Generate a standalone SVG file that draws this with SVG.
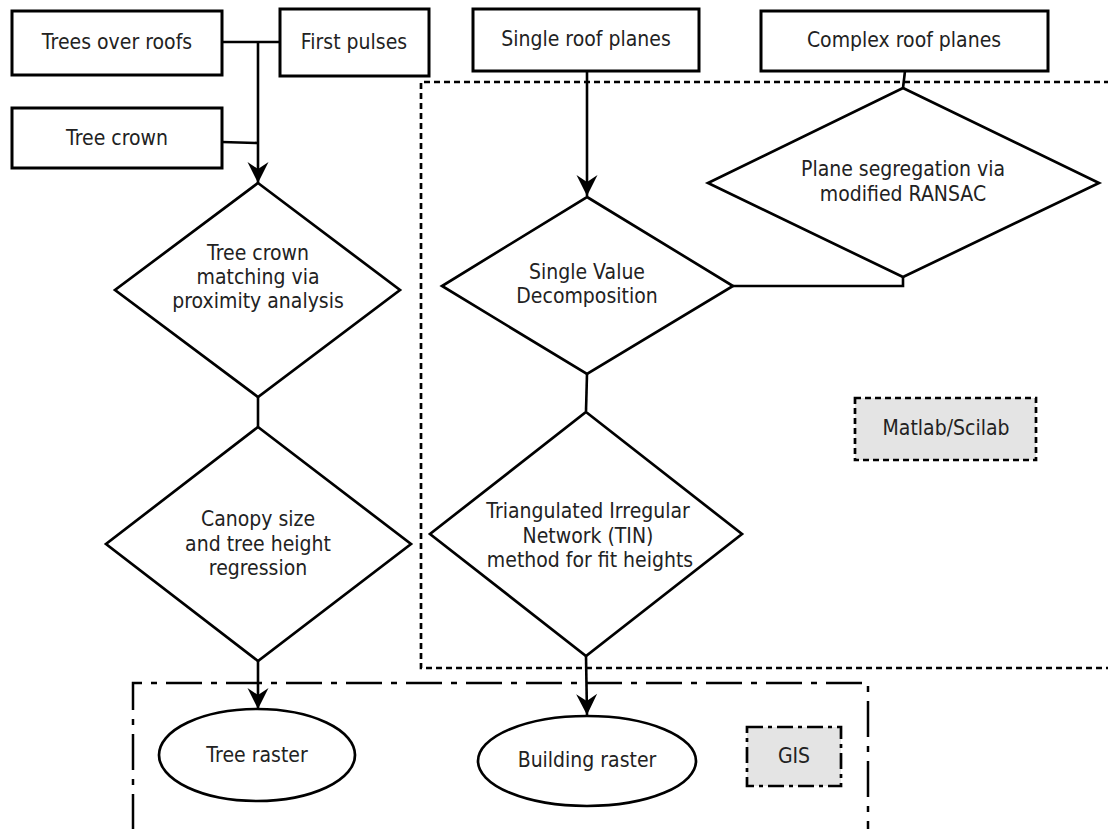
<svg xmlns="http://www.w3.org/2000/svg" width="1108" height="829" viewBox="0 0 1108 829">
<style>
.box{fill:#fff;stroke:#000;stroke-width:3}
.dia{fill:#fff;stroke:#000;stroke-width:2.7}
.ell{fill:#fff;stroke:#000;stroke-width:2.7}
.t{font-family:"DejaVu Sans","Liberation Sans",sans-serif;font-size:21px;fill:#222;text-anchor:middle}
.c{fill:none;stroke:#000;stroke-width:2.6}
.dot{fill:none;stroke:#000;stroke-width:2.7;stroke-dasharray:6 4}
.dd{fill:none;stroke:#000;stroke-width:2.5;stroke-dasharray:36 9 6 9}
.tag1{fill:#e4e4e4;stroke:#000;stroke-width:2.7;stroke-dasharray:6 4}
.tag2{fill:#e4e4e4;stroke:#000;stroke-width:2.7;stroke-dasharray:16 5 4 5}
</style>
<defs>
<marker id="arr" markerUnits="userSpaceOnUse" markerWidth="26" markerHeight="26" viewBox="-23 -13 26 26" refX="0" refY="0" orient="auto">
<path d="M0,0 L-21,-10.5 L-14,0 L-21,10.5 Z" fill="#000"/>
</marker>
</defs>
<g id="regions">
<path class="dot" d="M1110,82 H421 V668 H1110"/>
<path class="dd" d="M133,830 V683 H868 V830"/>
</g>
<g id="connectors">
<path class="c" d="M222,42 H280"/>
<path class="c" d="M258,42 V183" marker-end="url(#arr)"/>
<path class="c" d="M222,142 L258,143"/>
<path class="c" d="M258,397 V427"/>
<path class="c" d="M258,661 V709" marker-end="url(#arr)"/>
<path class="c" d="M587,71 V196" marker-end="url(#arr)"/>
<path class="c" d="M905,71 L903,88"/>
<path class="c" d="M903,277 V286 H733"/>
<path class="c" d="M587,374 L586,411"/>
<path class="c" d="M586,656 L587,715" marker-end="url(#arr)"/>
</g>
<g id="n-trees-over-roofs">
<rect class="box" x="12" y="11" width="210" height="64"/>
<text class="t" transform="translate(117,49) scale(0.9,1)">Trees over roofs</text>
</g>
<g id="n-first-pulses">
<rect class="box" x="280" y="9" width="149" height="67"/>
<text class="t" transform="translate(354,49) scale(0.9,1)">First pulses</text>
</g>
<g id="n-tree-crown">
<rect class="box" x="12" y="108" width="210" height="60"/>
<text class="t" transform="translate(117,145) scale(0.9,1)">Tree crown</text>
</g>
<g id="n-single-roof">
<rect class="box" x="473" y="9" width="226" height="62"/>
<text class="t" transform="translate(586,46) scale(0.9,1)">Single roof planes</text>
</g>
<g id="n-complex-roof">
<rect class="box" x="761" y="11" width="287" height="60"/>
<text class="t" transform="translate(904,47) scale(0.9,1)">Complex roof planes</text>
</g>
<g id="n-crown-matching">
<polygon class="dia" points="258,183 400,290 258,397 115,290"/>
<text class="t" transform="translate(258,260) scale(0.9,1)">Tree crown</text>
<text class="t" transform="translate(258,284) scale(0.9,1)">matching via</text>
<text class="t" transform="translate(258,308) scale(0.9,1)">proximity analysis</text>
</g>
<g id="n-canopy">
<polygon class="dia" points="258,427 411,544 258,661 106,544"/>
<text class="t" transform="translate(258,526) scale(0.9,1)">Canopy size</text>
<text class="t" transform="translate(258,551) scale(0.9,1)">and tree height</text>
<text class="t" transform="translate(258,575) scale(0.9,1)">regression</text>
</g>
<g id="n-plane-seg">
<polygon class="dia" points="903,88 1099,183 903,277 708,183"/>
<text class="t" transform="translate(903,176) scale(0.9,1)">Plane segregation via</text>
<text class="t" transform="translate(903,201) scale(0.9,1)">modified RANSAC</text>
</g>
<g id="n-svd">
<polygon class="dia" points="587,197 733,286 587,374 442,286"/>
<text class="t" transform="translate(587,279) scale(0.9,1)">Single Value</text>
<text class="t" transform="translate(587,303) scale(0.9,1)">Decomposition</text>
</g>
<g id="n-tin">
<polygon class="dia" points="586,412 742,534 586,656 430,534"/>
<text class="t" transform="translate(588,518) scale(0.9,1)">Triangulated Irregular</text>
<text class="t" transform="translate(588,543) scale(0.9,1)">Network (TIN)</text>
<text class="t" transform="translate(590,567) scale(0.9,1)">method for fit heights</text>
</g>
<g id="n-matlab">
<rect class="tag1" x="855" y="398" width="181" height="62"/>
<text class="t" transform="translate(946,435) scale(0.9,1)">Matlab/Scilab</text>
</g>
<g id="n-tree-raster">
<ellipse class="ell" cx="257" cy="755" rx="98" ry="46"/>
<text class="t" transform="translate(257,762) scale(0.9,1)">Tree raster</text>
</g>
<g id="n-building-raster">
<ellipse class="ell" cx="587" cy="761" rx="109" ry="45"/>
<text class="t" transform="translate(587,767) scale(0.9,1)">Building raster</text>
</g>
<g id="n-gis">
<rect class="tag2" x="747" y="727" width="94" height="59"/>
<text class="t" transform="translate(794,763) scale(0.9,1)">GIS</text>
</g>
</svg>
